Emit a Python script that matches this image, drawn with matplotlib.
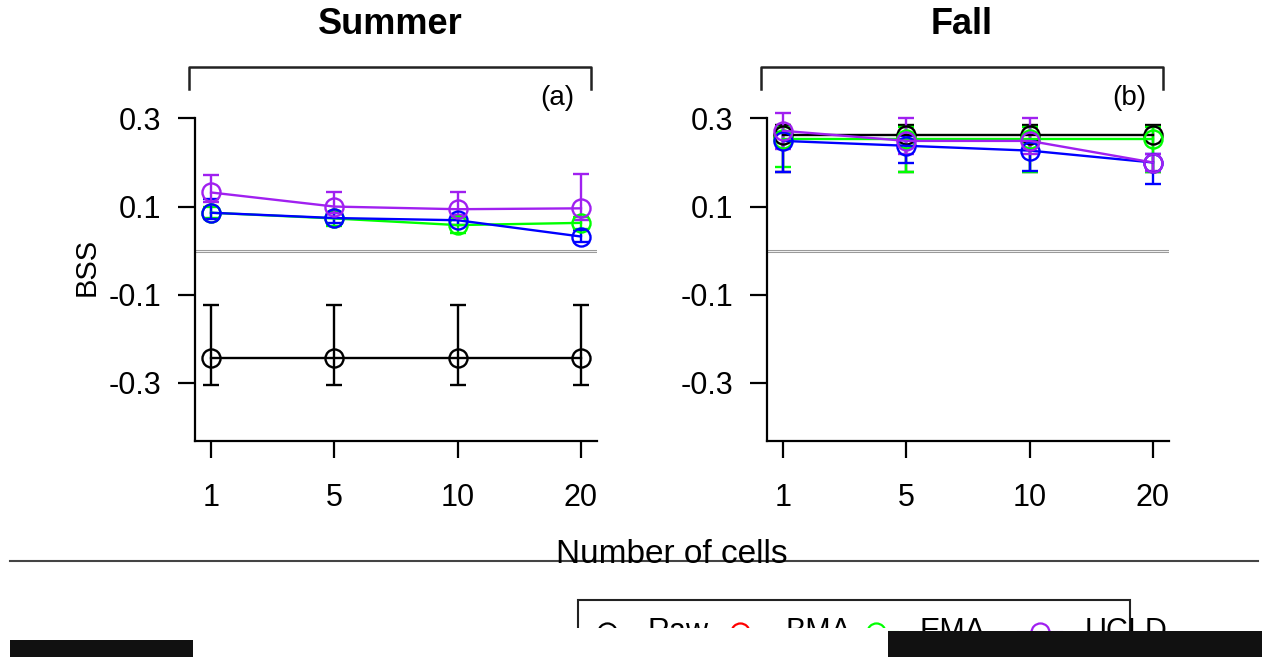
import matplotlib.pyplot as plt
from matplotlib.lines import Line2D
from matplotlib.patches import Rectangle
import numpy as np

plt.rcParams['font.family'] = ['Liberation Sans', 'DejaVu Sans']

W, H = 1262, 657

cells = ['1', '5', '10', '20']
yticks = [0.3, 0.1, -0.1, -0.3]

# Summer
summer_raw = [-0.244, -0.244, -0.244, -0.244]
summer_raw_lo = [-0.305, -0.305, -0.305, -0.305]
summer_raw_hi = [-0.123, -0.123, -0.123, -0.123]
summer_ema = [0.086, 0.073, 0.058, 0.063]
summer_ema_lo = [0.075, 0.055, 0.040, 0.049]
summer_ema_hi = [0.098, 0.088, 0.077, 0.077]
summer_bl = [0.086, 0.074, 0.069, 0.032]
summer_bl_lo = [0.071, 0.062, 0.058, 0.019]
summer_bl_hi = [0.118, 0.086, 0.080, 0.046]
summer_ucld = [0.132, 0.100, 0.094, 0.096]
summer_ucld_lo = [0.110, 0.085, 0.080, 0.070]
summer_ucld_hi = [0.172, 0.134, 0.133, 0.175]

# Fall
fall_raw = [0.262, 0.262, 0.262, 0.262]
fall_raw_lo = [0.178, 0.178, 0.178, 0.178]
fall_raw_hi = [0.286, 0.286, 0.286, 0.286]
fall_ema = [0.254, 0.254, 0.254, 0.254]
fall_ema_lo = [0.190, 0.178, 0.178, 0.178]
fall_ema_hi = [0.280, 0.280, 0.280, 0.280]
fall_bl = [0.249, 0.238, 0.227, 0.200]
fall_bl_lo = [0.178, 0.200, 0.180, 0.152]
fall_bl_hi = [0.270, 0.260, 0.250, 0.220]
fall_ucld = [0.272, 0.249, 0.249, 0.200]
fall_ucld_lo = [0.231, 0.220, 0.220, 0.180]
fall_ucld_hi = [0.312, 0.300, 0.300, 0.220]

legend_labels = ['Raw', 'BMA', 'EMA', 'UCLD']
legend_colors = ['black', '#FF0000', '#00FF00', '#A020F0']


def fx(x):
    return x / W


def fy(y):
    return 1 - y / H


fig = plt.figure(figsize=(W / 100, H / 100), dpi=100)

ylo, yhi = -0.432, 0.36


def panel(left, title, tag, series):
    ax = fig.add_axes([fx(left), fy(441), 402 / W, (441 - 92) / H])
    x = np.arange(len(cells))
    ax.axhline(0, color='#9a9a9a', lw=2.2)
    ax.axhline(0, color='white', lw=0.6)
    for mean, lo, hi, col in series:
        mean = np.array(mean)
        err = [mean - np.array(lo), np.array(hi) - mean]
        ax.errorbar(x, mean, yerr=err, color=col, lw=1.7, marker='o', ms=13,
                    mfc='none', mew=1.7, capsize=6, capthick=1.7, elinewidth=1.7)
    ax.set_xlim(-0.13, 3.13)
    ax.set_ylim(ylo, yhi)
    ax.set_xticks(x)
    ax.set_xticklabels(cells)
    ax.set_yticks(yticks)
    ax.set_yticklabels(['0.3', '0.1', '-0.1', '-0.3'])
    ax.spines['top'].set_visible(False)
    ax.spines['right'].set_visible(False)
    ax.spines['left'].set_bounds(ylo, 0.3)
    for s in ['left', 'bottom']:
        ax.spines[s].set_linewidth(1.6)
    ax.tick_params(axis='both', length=12, width=1.6, labelsize=22)
    ax.tick_params(axis='x', pad=18)
    ax.tick_params(axis='y', pad=12)
    # strip bracket
    bl, br = left - 6, left + 396
    fig.add_artist(Line2D([fx(bl), fx(bl), fx(br), fx(br)],
                          [fy(89), fy(67), fy(67), fy(89)], color='#222222', lw=1.8))
    fig.text(fx(left + 195), fy(25), title, ha='center', va='center',
             fontsize=26, fontweight='bold')
    fig.text(fx(left + 362), fy(98), tag, ha='center', va='center', fontsize=20)
    return ax


ax1 = panel(195, 'Summer', '(a)', [
    (summer_raw, summer_raw_lo, summer_raw_hi, 'black'),
    (summer_ema, summer_ema_lo, summer_ema_hi, '#00FF00'),
    (summer_bl, summer_bl_lo, summer_bl_hi, '#0000FF'),
    (summer_ucld, summer_ucld_lo, summer_ucld_hi, '#A020F0'),
])
ax1.set_ylabel('BSS', fontsize=21, labelpad=6)

ax2 = panel(767, 'Fall', '(b)', [
    (fall_raw, fall_raw_lo, fall_raw_hi, 'black'),
    (fall_ema, fall_ema_lo, fall_ema_hi, '#00FF00'),
    (fall_bl, fall_bl_lo, fall_bl_hi, '#0000FF'),
    (fall_ucld, fall_ucld_lo, fall_ucld_hi, '#A020F0'),
])

# x label with rule
fig.add_artist(Line2D([fx(10), fx(1258)], [fy(561), fy(561)], color='#444444', lw=1.5))
fig.text(fx(672), fy(563), 'Number of cells', ha='center', va='baseline', fontsize=24)

# legend box (partly cut off)
fig.add_artist(Rectangle((fx(578), fy(657)), fx(1130) - fx(578), fy(600) - fy(657),
                         fill=False, ec='#222222', lw=1.5))
ly = 632
pos = [(607, 648), (740, 785), (876, 920), (1040, 1085)]
for (mx, tx), lab, col in zip(pos, legend_labels, legend_colors):
    if lab != 'Raw':
        fig.add_artist(Line2D([fx(mx - 22), fx(mx + 22)], [fy(ly), fy(ly)], color=col, lw=1.5))
    fig.add_artist(Line2D([fx(mx)], [fy(ly)], color=col, marker='o', ms=13, mfc='none', mew=1.6))
    fig.text(fx(tx), fy(ly), lab, ha='left', va='center', fontsize=22)

fig.add_artist(Rectangle((fx(570), 0), fx(888) - fx(570), fy(628), color='white', lw=0, zorder=20))
fig.add_artist(Rectangle((fx(888), 0), 1 - fx(888), fy(631), color='#111111', lw=0, zorder=21))
fig.add_artist(Rectangle((fx(10), 0), fx(193) - fx(10), fy(640), color='#111111', lw=0, zorder=21))

fig.savefig('out.png', dpi=100)
